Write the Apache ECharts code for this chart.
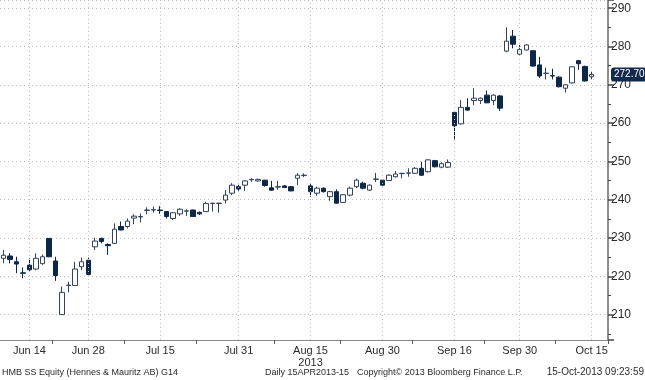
<!DOCTYPE html>
<html>
<head>
<meta charset="utf-8">
<script src="https://cdn.jsdelivr.net/npm/echarts@6/dist/echarts.min.js"></script>
<style>
html,body{margin:0;padding:0;background:#fff;}
#chart{width:645px;height:380px;}
</style>
</head>
<body>
<div id="chart"></div>
<script>
// Trading days (Stockholm, Midsummer Eve closed) + two empty padding slots
const dates = [
 '2013-06-10','2013-06-11','2013-06-12','2013-06-13','2013-06-14',
 '2013-06-17','2013-06-18','2013-06-19','2013-06-20',
 '2013-06-24','2013-06-25','2013-06-26','2013-06-27','2013-06-28',
 '2013-07-01','2013-07-02','2013-07-03','2013-07-04','2013-07-05',
 '2013-07-08','2013-07-09','2013-07-10','2013-07-11','2013-07-12',
 '2013-07-15','2013-07-16','2013-07-17','2013-07-18','2013-07-19',
 '2013-07-22','2013-07-23','2013-07-24','2013-07-25','2013-07-26',
 '2013-07-29','2013-07-30','2013-07-31','2013-08-01','2013-08-02',
 '2013-08-05','2013-08-06','2013-08-07','2013-08-08','2013-08-09',
 '2013-08-12','2013-08-13','2013-08-14','2013-08-15','2013-08-16',
 '2013-08-19','2013-08-20','2013-08-21','2013-08-22','2013-08-23',
 '2013-08-26','2013-08-27','2013-08-28','2013-08-29','2013-08-30',
 '2013-09-02','2013-09-03','2013-09-04','2013-09-05','2013-09-06',
 '2013-09-09','2013-09-10','2013-09-11','2013-09-12','2013-09-13',
 '2013-09-16','2013-09-17','2013-09-18','2013-09-19','2013-09-20',
 '2013-09-23','2013-09-24','2013-09-25','2013-09-26','2013-09-27',
 '2013-09-30','2013-10-01','2013-10-02','2013-10-03','2013-10-04',
 '2013-10-07','2013-10-08','2013-10-09','2013-10-10','2013-10-11',
 '2013-10-14','2013-10-15',
 '2013-10-16','2013-10-17'
];
const opens = [
 224.7,225.3,223.8,220.9,222.9, 221.9,223.3,229.9,224.0, 210.0,217.6,217.6,222.5,224.2,
 227.7,229.9,228.3,228.6,233.0, 233.0,235.2,235.5,237.2,237.3, 237.3,236.9,235.1,236.3,237.0,
 237.3,236.7,236.9,239.0,239.0, 239.9,241.7,243.4,243.8,245.2, 244.9,245.1,243.1,243.3,243.6,
 243.4,245.6,246.3,243.6,241.7, 243.0,240.8,242.1,239.3,241.2, 243.4,244.3,242.5,245.3,245.1,
 245.0,246.0,246.8,246.9,246.9, 248.2,247.3,250.2,248.5,248.5, 262.8,259.8,264.1,265.9,265.9,
 267.3,265.9,267.1,278.8,282.7, 278.0,279.1,278.9,275.2,273.0, 272.4,272.0,269.1,270.5,276.3,
 274.8,272.1
];
const closes = [
 225.5,224.4,223.2,220.8,221.7, 224.7,225.1,225.1,220.2, 215.8,217.7,221.9,223.8,220.5,
 229.2,229.1,228.0,232.3,232.1, 234.4,235.7,235.6,237.3,237.4, 237.2,235.6,236.6,237.5,237.1,
 235.6,236.3,239.0,239.1,239.1, 241.2,243.8,242.8,244.9,245.3, 245.3,243.7,242.5,243.4,243.2,
 242.3,246.4,246.4,242.1,243.0, 242.1,242.1,239.1,241.3,243.0, 245.1,243.0,243.8,245.4,243.8,
 246.4,246.7,246.9,247.0,248.2, 246.4,250.4,248.6,249.4,249.7, 259.3,264.1,263.4,266.5,266.5,
 265.3,267.3,263.9,281.4,280.6, 279.2,280.4,274.9,272.3,273.0, 272.3,269.5,270.0,274.7,275.5,
 271.0,272.7
];
const lows = [
 223.4,223.4,220.8,219.5,221.4, 221.6,223.0,225.0,218.8, 210.0,215.8,217.5,221.6,220.4,
 226.9,228.6,225.6,228.5,232.0, 232.5,233.6,234.1,236.2,236.6, 236.3,235.1,234.7,235.8,235.8,
 235.5,236.0,236.8,236.9,236.6, 239.0,241.2,242.3,242.3,244.7, 244.7,243.4,242.3,242.6,243.0,
 242.2,243.8,245.9,240.8,241.0, 241.9,239.7,239.0,239.1,240.9, 243.0,242.7,242.3,244.6,243.6,
 244.9,245.8,245.6,246.0,246.7, 246.2,247.1,248.4,248.2,248.3, 255.5,259.6,263.2,264.7,265.0,
 265.2,264.7,263.2,278.5,279.5, 277.5,279.0,274.7,271.8,271.4, 271.4,269.3,268.0,270.3,273.9,
 270.9,271.4
];
const highs = [
 226.9,226.0,225.1,222.3,224.7, 226.0,225.7,229.9,225.1, 217.3,218.6,223.8,224.9,224.9,
 230.1,230.1,228.6,233.8,234.3, 235.1,236.2,236.4,238.0,238.2, 238.3,237.0,236.8,237.8,237.5,
 237.4,236.9,239.5,239.2,239.2, 242.5,244.3,243.9,245.0,245.6, 245.5,245.2,244.9,244.9,243.8,
 243.5,246.9,246.9,244.3,243.4, 243.2,242.3,242.7,241.5,243.4, 245.5,244.7,244.0,247.0,245.3,
 246.6,247.5,247.0,248.2,248.5, 249.9,250.6,250.4,249.8,250.5, 263.0,266.0,266.5,269.1,266.7,
 268.5,267.5,267.3,285.0,284.3, 280.4,280.6,279.0,277.3,274.5, 274.2,272.2,270.2,274.9,276.5,
 275.0,273.5
];
const labelDates = ['2013-06-14','2013-06-28','2013-07-15','2013-07-31','2013-08-15','2013-08-30','2013-09-16','2013-09-30','2013-10-15'];
const labelTexts = ['Jun 14','Jun 28','Jul 15','Jul 31','Aug 15\n2013','Aug 30','Sep 16','Sep 30','Oct 15'];
const tickDates = ['2013-06-20','2013-07-08','2013-07-23','2013-08-08','2013-08-22','2013-09-06','2013-09-23','2013-10-08'];
const lastPriceText = '272.70';
const lastPrice = 272.70;
const yMin = 203.37, yMax = 292.14;

const candleData = opens.map((o, i) => [o, closes[i], lows[i], highs[i]]);
while (candleData.length < dates.length) candleData.push('-');

const chart = echarts.init(document.getElementById('chart'), null, {renderer: 'canvas'});
const txt = '#2b2b2b';
const font = 'Liberation Sans';

chart.setOption({
  animation: false,
  backgroundColor: '#ffffff',
  grid: {left: 0, right: 37, top: 0, bottom: 40, containLabel: false},
  xAxis: {
    type: 'category',
    data: dates,
    boundaryGap: true,
    axisLine: {show: true, lineStyle: {color: '#8a8a8a', width: 1}},
    axisTick: {
      show: true, length: 4, lineStyle: {color: '#555'},
      interval: (i, v) => tickDates.indexOf(v) >= 0
    },
    axisLabel: {
      interval: (i, v) => labelDates.indexOf(v) >= 0,
      formatter: v => { const k = labelDates.indexOf(v); return k >= 0 ? labelTexts[k] : ''; },
      color: txt, fontFamily: font, fontSize: 11, margin: 5, lineHeight: 12
    },
    splitLine: {show: false}
  },
  yAxis: {
    type: 'value',
    position: 'right',
    min: yMin, max: yMax,
    splitNumber: 9,
    scale: true,
    axisLine: {show: true, lineStyle: {color: '#666', width: 1.5}},
    axisTick: {show: true, inside: false, length: 6, lineStyle: {color: '#444', width: 1.5}},
    minorTick: {show: true, splitNumber: 2, length: 3, lineStyle: {color: '#444'}},
    axisLabel: {
      showMinLabel: false, showMaxLabel: false,
      formatter: v => (Math.abs(v % 10) < 0.001 ? String(v) : ''),
      color: txt, fontFamily: font, fontSize: 12, margin: 3
    },
    splitLine: {show: true, lineStyle: {color: '#bdbdbd', type: [1, 3], width: 1}}
  },
  series: [
    {
      type: 'line', data: [], z: 1, silent: true,
      markLine: {
        silent: true, symbol: ['none', 'none'], label: {show: false},
        lineStyle: {color: '#bdbdbd', type: [1, 3], width: 1},
        data: labelDates.map(d => ({xAxis: d}))
      }
    },
    {
      type: 'candlestick',
      z: 3,
      data: candleData,
      barWidth: 5,
      itemStyle: {
        color: '#ffffff', color0: '#0f2747',
        borderColor: '#33435c', borderColor0: '#0f2747',
        borderWidth: 1
      },
      markLine: {
        silent: true, symbol: ['none', 'none'],
        lineStyle: {color: 'rgba(0,0,0,0)', width: 0},
        label: {
          show: true, position: 'end', formatter: () => lastPriceText,
          backgroundColor: '#13294b', color: '#ffffff', fontFamily: font, fontSize: 10,
          padding: [2, 2, 2, 3], borderRadius: 3, distance: 3
        },
        data: [{yAxis: lastPrice}]
      }
    }
  ],
  graphic: [
    {type: 'text', left: 2, top: 368, style: {text: 'HMB SS Equity (Hennes & Mauritz AB) G14', fill: txt, font: '9px "Liberation Sans"'}},
    {type: 'text', left: 265, top: 368, style: {text: 'Daily 15APR2013-15', fill: txt, font: '9px "Liberation Sans"'}},
    {type: 'text', left: 357, top: 368, style: {text: 'Copyright\u00a9 2013 Bloomberg Finance L.P.', fill: txt, font: '9px "Liberation Sans"'}},
    {type: 'text', right: 1, top: 367, style: {text: '15-Oct-2013 09:23:59', fill: txt, font: '10px "Liberation Sans"'}}
  ]
});
</script>
</body>
</html>
